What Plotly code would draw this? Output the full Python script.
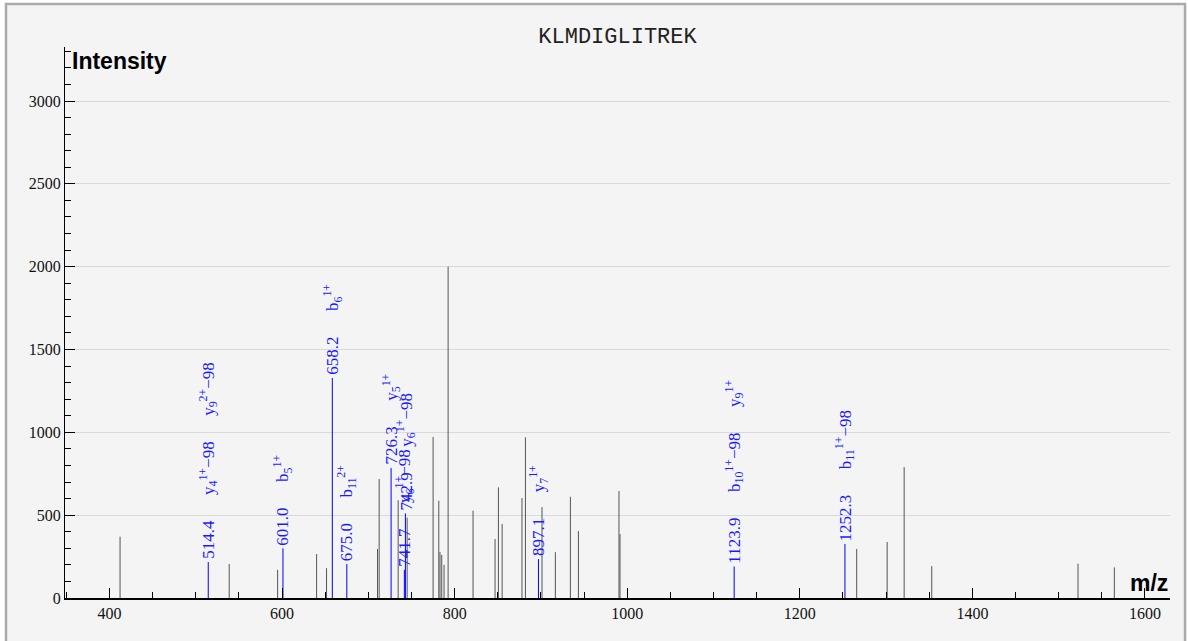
import plotly.graph_objects as go

peptide = "KLMDIGLITREK"

# unmatched peaks
peak_mz = [412.2, 538.7, 594.8, 640.0, 651.5, 710.6, 712.5, 734.5, 744.9,
           775.0, 781.6, 783.0, 785.0, 787.7, 792.4, 821.3, 846.8, 850.7,
           855.0, 878.0, 882.0, 901.2, 916.7, 934.1, 943.4, 990.4, 991.6,
           1265.9, 1301.2, 1320.9, 1352.9, 1522.4, 1564.5]
peak_int = [370, 205, 170, 265, 180, 296, 718, 590, 485,
            972, 587, 277, 260, 200, 2000, 527, 356, 668,
            447, 603, 970, 549, 277, 611, 404, 646, 386,
            296, 338, 790, 192, 207, 185]

# matched fragment peaks
match_mz = [514.4, 601.0, 658.2, 675.0, 726.3, 741.7, 742.9, 897.1, 1123.9, 1252.3]
match_int = [217, 300, 1328, 205, 785, 170, 510, 235, 190, 326]
match_ions = [
    ["y<sub>4</sub><sup>1+</sup>−98", "y<sub>9</sub><sup>2+</sup>−98"],
    ["b<sub>5</sub><sup>1+</sup>"],
    ["b<sub>6</sub><sup>1+</sup>"],
    ["b<sub>11</sub><sup>2+</sup>"],
    ["y<sub>5</sub><sup>1+</sup>"],
    ["y<sub>6</sub><sup>1+</sup>−98"],
    ["y<sub>6</sub><sup>1+</sup>−98"],
    ["y<sub>7</sub><sup>1+</sup>"],
    ["b<sub>10</sub><sup>1+</sup>−98", "y<sub>9</sub><sup>1+</sup>"],
    ["b<sub>11</sub><sup>1+</sup>−98"],
]


def sticks(xs, ys):
    x, y = [], []
    for a, b in zip(xs, ys):
        x += [a, a, None]
        y += [0, b, None]
    return x, y


fig = go.Figure()

gx, gy = sticks(peak_mz, peak_int)
fig.add_trace(go.Scatter(x=gx, y=gy, mode="lines",
                         line=dict(color="#555555", width=1),
                         hoverinfo="skip", showlegend=False))

bx, by = sticks(match_mz, match_int)
fig.add_trace(go.Scatter(x=bx, y=by, mode="lines",
                         line=dict(color="#0000ff", width=1),
                         hoverinfo="skip", showlegend=False))

gap = "\u2003\u2002"
for mz, inten, ions in zip(match_mz, match_int, match_ions):
    text = "{:.1f}".format(mz) + gap + gap.join(ions)
    fig.add_annotation(x=mz, y=inten, text=text, textangle=-90,
                       showarrow=False, xanchor="center", yanchor="bottom",
                       yshift=2, borderpad=0,
                       font=dict(family="Liberation Serif", size=17, color="#1a1aff"))

fig.add_annotation(x=0.0045, y=0.974, xref="paper", yref="paper",
                   text="<b>Intensity</b>", showarrow=False,
                   xanchor="left", yanchor="middle",
                   font=dict(family="Liberation Sans", size=23, color="#000"))
fig.add_annotation(x=1, y=0, xref="paper", yref="paper",
                   text="<b>m/z</b>", showarrow=False,
                   xanchor="right", yanchor="bottom",
                   font=dict(family="Liberation Sans", size=23, color="#000"))

# chart frame
fig.add_shape(type="rect", xref="paper", yref="paper",
              x0=-0.0534, x1=1.0136, y0=-0.09, y1=1.078,
              fillcolor="#f4f4f4", line=dict(color="#aaaaaa", width=2.5),
              layer="below")

fig.update_layout(
    width=1188, height=641,
    margin=dict(l=65, r=18, t=47, b=43),
    paper_bgcolor="white",
    plot_bgcolor="rgba(0,0,0,0)",
    title=dict(text=peptide, x=0.5, xref="paper", y=1 - 35 / 641,
               yanchor="middle", xanchor="center",
               font=dict(family="Liberation Mono", size=22, color="#222")),
    xaxis=dict(range=[348.4, 1629], showgrid=False, zeroline=False,
               showline=True, linecolor="black", linewidth=2,
               ticks="inside", ticklen=10, tickcolor="black", dtick=200, tick0=0,
               minor=dict(dtick=50, ticks="inside", ticklen=6, tickcolor="black"),
               tickfont=dict(family="Liberation Serif", size=16, color="#111")),
    yaxis=dict(range=[0, 3326], showgrid=True, gridcolor="#d9d9d9", gridwidth=1,
               zeroline=False, showline=True, linecolor="black", linewidth=1,
               ticks="inside", ticklen=10, tickcolor="black", dtick=500, tick0=0,
               minor=dict(dtick=100, ticks="inside", ticklen=6, tickcolor="black"),
               tickfont=dict(family="Liberation Serif", size=16, color="#111")),
)

fig.write_html("out.html", config={"displayModeBar": False},
               post_script="document.body.style.margin='0';")
